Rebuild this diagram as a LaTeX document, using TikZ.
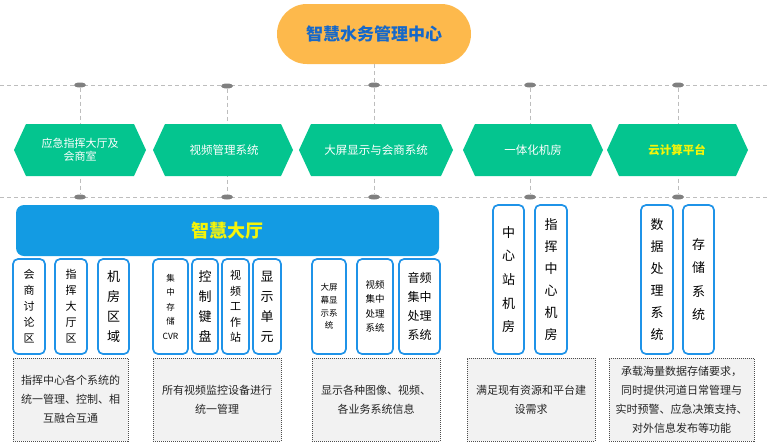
\documentclass[tikz,border=0pt]{standalone}
\usepackage{fontspec}
\setmainfont{Noto Sans CJK SC}
\usetikzlibrary{shapes.geometric}

\definecolor{pillorange}{HTML}{FDB94C}
\definecolor{titleblue}{HTML}{1668C9}
\definecolor{hexgreen}{HTML}{04C58F}
\definecolor{hallblue}{HTML}{139BE3}
\definecolor{boxblue}{HTML}{1F93E8}
\definecolor{linegray}{HTML}{BDBDBD}
\definecolor{dotgray}{HTML}{808080}
\definecolor{notegray}{HTML}{F2F2F2}
\definecolor{hallyellow}{HTML}{F4F40A}

\tikzset{
  gridline/.style={linegray, line width=0.9pt, dash pattern=on 4pt off 3pt},
  joint/.style={ellipse, fill=dotgray, minimum width=12pt, minimum height=5pt, inner sep=0pt},
  hexa/.style={fill=hexgreen},
  hextext/.style={text=white, align=center, font=\fontsize{11.5}{14}\selectfont},
  unit/.style={draw=boxblue, line width=1.7pt, rounded corners=5pt, fill=white,
    inner sep=0pt, align=center, text=black},
  note/.style={draw=black!70, fill=notegray, line width=0.8pt, dash pattern=on 1pt off 1pt,
    inner sep=0pt, align=center, text=black!85, font=\fontsize{11}{19}\selectfont}
}

\begin{document}
\begin{tikzpicture}[x=1pt, y=-1pt]
\useasboundingbox (0,0) rectangle (768,445);

% dashed rails
\coordinate (ul) at (0,85);
\coordinate (ur) at (768,85);
\coordinate (ll) at (0,197);
\coordinate (lr) at (768,197);
\draw[gridline] (ul) -- (ur);
\draw[gridline] (ll) -- (lr);

% joints
\node[joint] (t1) at (80,85) {};
\node[joint] (t2) at (227,86) {};
\node[joint] (t3) at (374,85) {};
\node[joint] (t4) at (530,85) {};
\node[joint] (t5) at (678,85) {};
\node[joint] (b1) at (80,197) {};
\node[joint] (b2) at (227,197) {};
\node[joint] (b3) at (374,197) {};
\node[joint] (b4) at (530,197) {};
\node[joint] (b5) at (678,197) {};

\draw[gridline] (t1) -- (b1);
\draw[gridline] (t2) -- (b2);
\draw[gridline] (t3) -- (b3);
\draw[gridline] (t4) -- (b4);
\draw[gridline] (t5) -- (b5);

% top
\node[fill=pillorange, rounded corners=29.9pt, minimum width=194pt, minimum height=60pt,
  text=titleblue, font=\fontsize{17}{20}\selectfont\bfseries] (center) at (374,34) {智慧水务管理中心};
\draw[gridline] (center) -- (t3);

% hexagons
\fill[hexa] (14,150) -- (26,124) -- (134,124) -- (146,150) -- (134,176) -- (26,176) -- cycle;
\fill[hexa] (153,150) -- (165,124) -- (281,124) -- (293,150) -- (281,176) -- (165,176) -- cycle;
\fill[hexa] (299,150) -- (311,124) -- (441,124) -- (453,150) -- (441,176) -- (311,176) -- cycle;
\fill[hexa] (463,150) -- (475,124) -- (591,124) -- (603,150) -- (591,176) -- (475,176) -- cycle;
\fill[hexa] (607,150) -- (619,124) -- (736,124) -- (748,150) -- (736,176) -- (619,176) -- cycle;

\node[hextext, font=\fontsize{11}{13}\selectfont] (h1) at (80,150) {应急指挥大厅及\\会商室};
\node[hextext] (h2) at (224,150) {视频管理系统};
\node[hextext] (h3) at (376,150) {大屏显示与会商系统};
\node[hextext] (h4) at (533,150) {一体化机房};
\node[hextext, text=hallyellow, font=\fontsize{11.5}{14}\selectfont\bfseries] (h5) at (677,150) {云计算平台};

% hall
\node[fill=hallblue, rounded corners=8pt, minimum width=423pt, minimum height=51pt,
  text=hallyellow, font=\fontsize{18}{20}\selectfont\bfseries] (hall) at (227.5,230.5) {智慧大厅};

% units
\node[unit, minimum width=32pt, minimum height=95pt, font=\fontsize{11}{16}\selectfont] (u1) at (29,306.5) {会\\商\\讨\\论\\区};
\node[unit, minimum width=32pt, minimum height=95pt, font=\fontsize{11}{16}\selectfont] (u2) at (71,306.5) {指\\挥\\大\\厅\\区};
\node[unit, minimum width=31pt, minimum height=95pt, font=\fontsize{13}{20}\selectfont] (u3) at (113.5,306.5) {机\\房\\区\\域};
\node[unit, minimum width=35pt, minimum height=95pt, font=\fontsize{8.5}{14.5}\selectfont] (u4) at (170.5,306.5) {集\\中\\存\\储\\CVR};
\node[unit, minimum width=26pt, minimum height=95pt, font=\fontsize{13}{20}\selectfont] (u5) at (205,306.5) {控\\制\\键\\盘};
\node[unit, minimum width=27pt, minimum height=95pt, font=\fontsize{11}{15.6}\selectfont] (u6) at (235.5,306.5) {视\\频\\工\\作\\站};
\node[unit, minimum width=28pt, minimum height=95pt, font=\fontsize{13}{20}\selectfont] (u7) at (267,306.5) {显\\示\\单\\元};
\node[unit, minimum width=34pt, minimum height=95pt, font=\fontsize{8.5}{12.8}\selectfont] (u8) at (329,306.5) {大屏\\幕显\\示系\\统};
\node[unit, minimum width=36pt, minimum height=95pt, font=\fontsize{9.5}{14.4}\selectfont] (u9) at (375,306.5) {视频\\集中\\处理\\系统};
\node[unit, minimum width=41pt, minimum height=95pt, font=\fontsize{12}{19}\selectfont] (u10) at (419.5,306.5) {音频\\集中\\处理\\系统};
\node[unit, minimum width=31pt, minimum height=149pt, font=\fontsize{13}{23.7}\selectfont] (u11) at (508.5,279.5) {中\\心\\站\\机\\房};
\node[unit, minimum width=32pt, minimum height=149pt, font=\fontsize{13}{22}\selectfont] (u12) at (551,279.5) {指\\挥\\中\\心\\机\\房};
\node[unit, minimum width=32pt, minimum height=149pt, font=\fontsize{13}{22}\selectfont] (u13) at (657,279.5) {数\\据\\处\\理\\系\\统};
\node[unit, minimum width=31pt, minimum height=149pt, font=\fontsize{13}{23.3}\selectfont] (u14) at (698.5,279.5) {存\\储\\系\\统};

% notes
\node[note, minimum width=115pt, minimum height=83pt] (n1) at (70.5,399.5) {指挥中心各个系统的\\统一管理、控制、相\\互融合互通};
\node[note, minimum width=128pt, minimum height=83pt] (n2) at (217,399.5) {所有视频监控设备进行\\统一管理};
\node[note, minimum width=128pt, minimum height=83pt] (n3) at (376,399.5) {显示各种图像、视频、\\各业务系统信息};
\node[note, minimum width=128pt, minimum height=83pt] (n4) at (531,399.5) {满足现有资源和平台建\\设需求};
\node[note, minimum width=145pt, minimum height=83pt] (n5) at (681.5,399.5) {承载海量数据存储要求，\\同时提供河道日常管理与\\实时预警、应急决策支持、\\对外信息发布等功能};
\end{tikzpicture}
\end{document}
